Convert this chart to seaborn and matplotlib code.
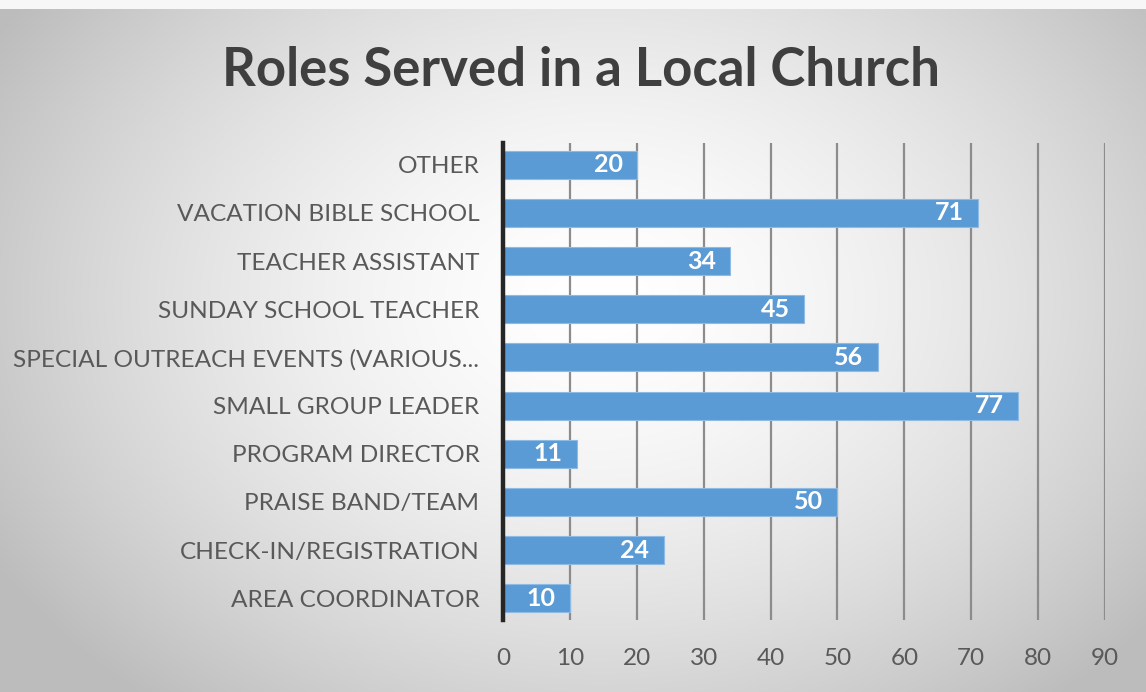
import numpy as np
import pandas as pd
import matplotlib
matplotlib.use("Agg")
import matplotlib.pyplot as plt
import seaborn as sns

roles = [
    "OTHER",
    "VACATION BIBLE SCHOOL",
    "TEACHER ASSISTANT",
    "SUNDAY SCHOOL TEACHER",
    "SPECIAL OUTREACH EVENTS (VARIOUS...",
    "SMALL GROUP LEADER",
    "PROGRAM DIRECTOR",
    "PRAISE BAND/TEAM",
    "CHECK-IN/REGISTRATION",
    "AREA COORDINATOR",
]
counts = [20, 71, 34, 45, 56, 77, 11, 50, 24, 10]
x_ticks = [0, 10, 20, 30, 40, 50, 60, 70, 80, 90]

df = pd.DataFrame({"role": roles, "count": counts})

sns.set_theme(style="white")
plt.rcParams["font.family"] = ["Lato", "DejaVu Sans"]

W, H = 1146, 692
fig = plt.figure(figsize=(W / 100, H / 100), dpi=100)

# radial grey backdrop, lighter toward the centre
bg = fig.add_axes([0, 0, 1, 1], zorder=-10)
yy, xx = np.mgrid[0:H, 0:W]
r = np.sqrt(((xx - 600) / 700.0) ** 2 + ((yy - 300) / 520.0) ** 2)
shade = np.clip(1.0 - 0.26 * r ** 1.6, 0.74, 1.0)
shade[:9, :] = 0.97
img = np.dstack([shade, shade, shade])
bg.imshow(img, aspect="auto", extent=[0, 1, 0, 1], origin="upper")
bg.set_axis_off()

ax = fig.add_axes([503 / W, 1 - 620 / H, (1105 - 503) / W, (620 - 143) / H])
ax.patch.set_alpha(0)

sns.barplot(data=df, y="role", x="count", orient="h", color="#5B9BD5",
            saturation=1, width=0.58, ax=ax, zorder=3,
            edgecolor="#8dbbe6", linewidth=0.8)

ax.set_xlim(0, 90)
ax.set_ylim(9.45, -0.45)
ax.set_xticks(x_ticks)
ax.set_xticklabels([str(t) for t in x_ticks])
ax.set_xlabel("")
ax.set_ylabel("")
ax.xaxis.grid(True, color="#8c8c8c", linewidth=1.6, zorder=0)
ax.yaxis.grid(False)
ax.set_axisbelow(True)

for s in ["top", "right", "bottom"]:
    ax.spines[s].set_visible(False)
ax.spines["left"].set_color("#262626")
ax.spines["left"].set_linewidth(3.2)
ax.spines["left"].set_zorder(5)

ax.tick_params(axis="x", length=0, pad=20, labelsize=17.5, labelcolor="#595959")
ax.tick_params(axis="y", length=0, pad=17, labelsize=17.6, labelcolor="#595959")

for bar, v in zip(ax.patches, counts):
    ax.text(bar.get_width() - 2.1, bar.get_y() + bar.get_height() / 2, str(v),
            ha="right", va="center", color="white", fontsize=18,
            fontweight="bold", zorder=6)

fig.text(581 / W, 1 - 71 / H, "Roles Served in a Local Church", ha="center",
         va="center", fontsize=38, fontweight="bold", color="#3f3f3f")

fig.savefig("out.png", dpi=100)
